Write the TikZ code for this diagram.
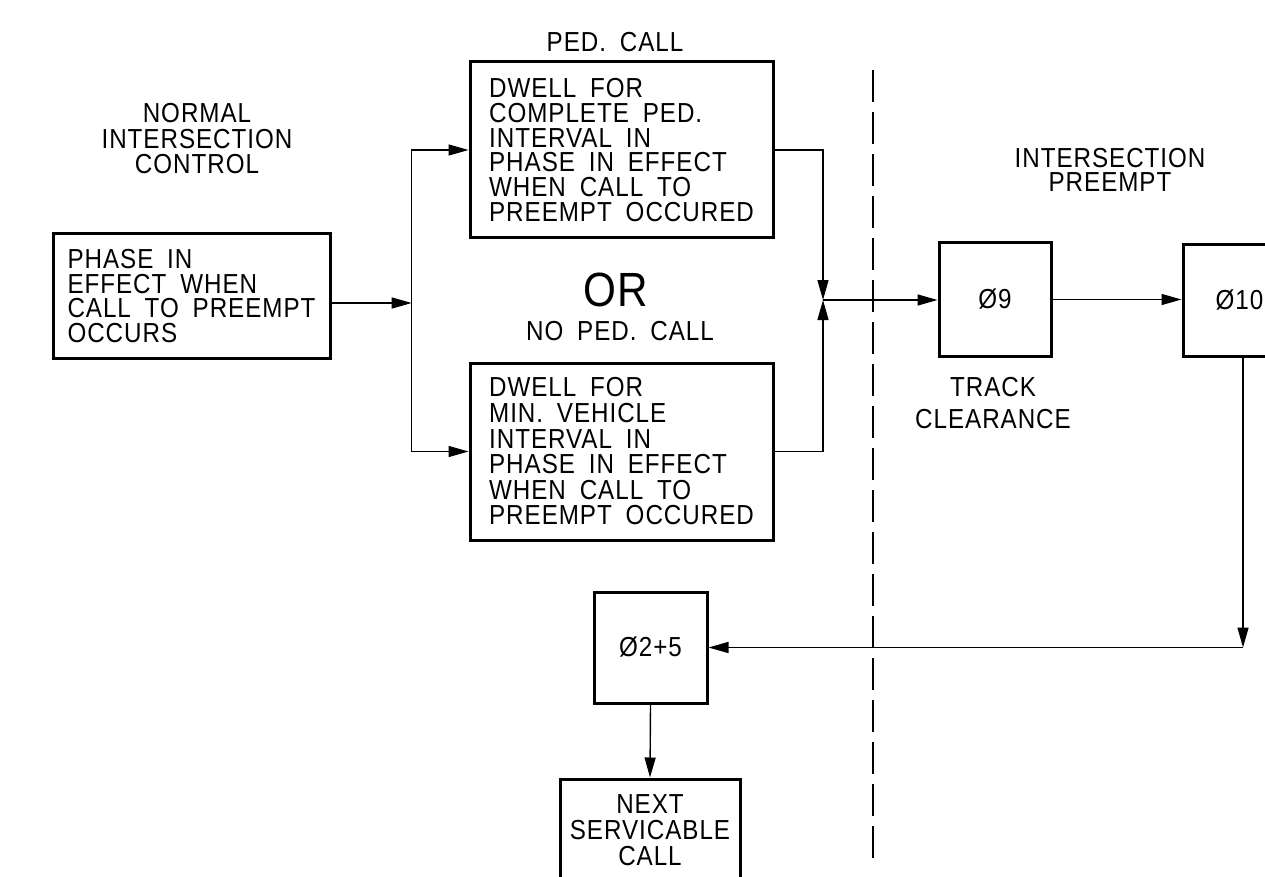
\documentclass[tikz,border=0pt]{standalone}
\usepackage{fontspec}
\setmainfont[FakeStretch=0.88, LetterSpace=3.5, WordSpace=1.8]{Liberation Sans}
\usetikzlibrary{arrows.meta}
\tikzset{
  every node/.style={font=\fontsize{27.5pt}{24.8pt}\selectfont, inner sep=0pt},
  blk/.style={draw, line width=3pt, align=left},
  sq/.style={draw, line width=3pt, align=center},
  lbl/.style={align=center},
  conn/.style={line width=1.4pt, -{Triangle[length=20pt,width=11pt]}},
  divider/.style={line width=1.4pt, dash pattern=on 32pt off 10pt}
}
\begin{document}
\begin{tikzpicture}[x=1pt,y=-1pt]
\useasboundingbox (0,0) rectangle (1265,877);
\clip (0,0) rectangle (1265,877);

% labels
\node[lbl, font=\fontsize{27.5pt}{25.5pt}\selectfont] (lnorm) at (197,139) {NORMAL\\INTERSECTION\\CONTROL};
\node[lbl] (lped) at (615,42) {PED.\ CALL};
\node[lbl, font=\fontsize{48pt}{48pt}\selectfont] (lor) at (616,290) {OR};
\node[lbl] (lnoped) at (620,331.5) {NO PED.\ CALL};
\node[lbl] (lpre) at (1110,170) {INTERSECTION\\PREEMPT};
\node[lbl, font=\fontsize{27.5pt}{31.5pt}\selectfont] (ltrack) at (993,403) {TRACK\\CLEARANCE};

% boxes
\node[blk, minimum width=277pt, minimum height=125pt] (L) at (191.5,296)
  {PHASE IN\\EFFECT WHEN\\CALL TO PREEMPT\\OCCURS};
\node[blk, minimum width=303pt, minimum height=176pt] (T) at (621.5,150)
  {DWELL FOR\\COMPLETE PED.\\INTERVAL IN\\PHASE IN EFFECT\\WHEN CALL TO\\PREEMPT OCCURED};
\node[blk, minimum width=303pt, minimum height=177pt, font=\fontsize{27.5pt}{25.6pt}\selectfont] (B) at (621.5,451.5)
  {DWELL FOR\\MIN.\ VEHICLE\\INTERVAL IN\\PHASE IN EFFECT\\WHEN CALL TO\\PREEMPT OCCURED};
\node[sq, minimum width=112pt, minimum height=113pt] (N9) at (995,299.5) {Ø9};
\node[sq, minimum width=113pt, minimum height=111pt] (N10) at (1239.5,300.5) {Ø10};
\node[sq, minimum width=113pt, minimum height=111pt] (N25) at (650.5,647.5) {Ø2+5};
\node[sq, minimum width=180pt, minimum height=102pt, font=\fontsize{27.5pt}{26pt}\selectfont] (NX) at (650,830)
  {NEXT\\SERVICABLE\\CALL};

% helper coordinates
\coordinate (br) at (411.7,303);
\coordinate (J) at (823,300);
\coordinate (C) at (1243,647.5);

% connectors
\draw[conn] ([yshift=-7pt]L.east) -- (br);
\draw[conn] (br) |- (T.west);
\draw[conn] (br) |- (B.west);
\draw[conn] (T.east) -| (J);
\draw[conn] (B.east) -| (J);
\draw[conn] (J) -- (J -| N9.west);
\draw[conn] (N9.east) -- (N9.east -| N10.west);
\draw[conn] (C |- N10.south) -- (C);
\draw[conn] (C) -- (N25.east);
\draw[conn] (N25.south) -- (NX.north);

% divider
\draw[divider] (873,858) -- (873,70);
\end{tikzpicture}
\end{document}
